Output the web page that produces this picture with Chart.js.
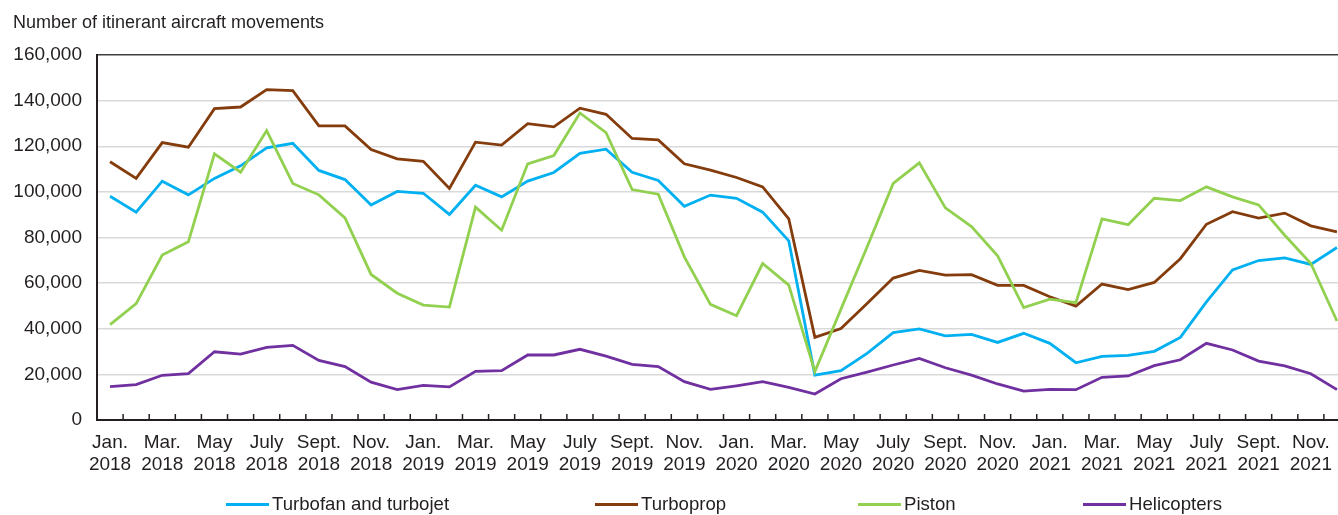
<!DOCTYPE html>
<html lang="en">
<head>
    <meta charset="UTF-8">
    <title>Itinerant aircraft movements</title>
    <script src="https://cdn.jsdelivr.net/npm/chart.js"></script>
    <style>
        body {
            margin: 0;
            background: #fff;
            font-family: 'Liberation Sans', Arial, sans-serif;
            color: #231f20;
        }
        #wrap {
            position: relative;
            width: 1338px;
            height: 515px;
        }
        #chart {
            position: absolute;
            left: 0;
            top: 0;
        }
        #title {
            position: absolute;
            left: 13px;
            top: 12px;
            font-size: 18px;
            line-height: 20px;
            white-space: nowrap;
        }
        .legend-item {
            position: absolute;
            top: 494px;
            font-size: 18.6px;
            line-height: 20px;
            white-space: nowrap;
        }
        .legend-line {
            position: absolute;
            width: 43px;
            height: 3px;
        }
    </style>
</head>
<body>
    <div id="wrap">
        <canvas id="chart" width="1338" height="515"></canvas>
        <div id="title">Number of itinerant aircraft movements</div>
        <div id="legend"></div>
    </div>

    <script>
        // months Jan. 2018 .. Dec. 2021
        const monthNames = ['Jan.', 'Feb.', 'Mar.', 'Apr.', 'May', 'June', 'July', 'Aug.', 'Sept.', 'Oct.', 'Nov.', 'Dec.'];
        const years = ['2018', '2019', '2020', '2021'];
        const categories = years.flatMap(y => monthNames.map(m => m + ' ' + y));

        const seriesNames = ['Turbofan and turbojet', 'Turboprop', 'Piston', 'Helicopters'];
        const seriesColors = ['#00b0f0', '#843c0c', '#92d050', '#7030a0'];

        const turbofan = [
            98100, 91100, 104700, 98700, 105900, 111400, 119300, 121300, 109400, 105400, 94200, 100200,
            99400, 90100, 102900, 97800, 104700, 108500, 116900, 118700, 108600, 105000, 93700, 98600,
            97200, 91100, 78500, 19700, 21600, 29200, 38300, 39900, 36900, 37500, 34000, 38000,
            33600, 25100, 27900, 28300, 30100, 36200, 51800, 65800, 69900, 71100, 68200, 75600
        ];
        const turboprop = [
            113200, 105900, 121600, 119600, 136500, 137200, 144800, 144400, 128900, 128900, 118600, 114500,
            113400, 101500, 121800, 120500, 129900, 128500, 136700, 134000, 123400, 122800, 112300, 109500,
            106300, 102200, 88200, 36200, 40100, 51100, 62200, 65600, 63500, 63700, 59000, 59000,
            54000, 49900, 59600, 57200, 60300, 70700, 85800, 91300, 88500, 90700, 85100, 82500
        ];
        const piston = [
            41800, 51000, 72300, 78100, 116700, 108600, 126900, 103700, 98700, 88600, 63800, 55600,
            50400, 49500, 93300, 83200, 112300, 115900, 134600, 126000, 101000, 99000, 71500, 50700,
            45700, 68600, 59100, 21200, 48600, 75800, 103700, 112700, 93000, 84800, 72000, 49300,
            53000, 51400, 88200, 85600, 97200, 96200, 102200, 97800, 94300, 81000, 68600, 43400
        ];
        const helicopters = [
            14600, 15500, 19600, 20300, 29900, 28900, 31800, 32700, 26100, 23400, 16600, 13300,
            15200, 14500, 21300, 21600, 28500, 28500, 31000, 28000, 24400, 23400, 16800, 13400,
            15000, 16800, 14300, 11400, 18100, 21000, 24100, 27000, 22900, 19700, 15800, 12700,
            13400, 13300, 18700, 19300, 23800, 26400, 33600, 30700, 25800, 23700, 20300, 13300
        ];
        const allSeries = [turbofan, turboprop, piston, helicopters];

        // x labels shown every second month
        const tickMonths = ['Jan.', 'Mar.', 'May', 'July', 'Sept.', 'Nov.'];
        const tickIndexes = categories.map((c, i) => i).filter(i => i % 2 === 0);

        const legendLeft = [226, 595, 858, 1083];

        const textColor = '#231f20';
        const fontFamily = "'Liberation Sans', Arial, sans-serif";

        const tickMarks = {
            id: 'tickMarks',
            beforeDatasetsDraw(chart) {
                const { ctx, chartArea, scales: { x, y } } = chart;
                const base = y.getPixelForValue(0);
                ctx.save();
                ctx.strokeStyle = textColor;
                ctx.lineWidth = 1.5;
                for (let i = 0; i < categories.length; i++) {
                    const px = x.getPixelForValue(i + 0.5);
                    if (px > chartArea.right) break;
                    ctx.beginPath();
                    ctx.moveTo(px, base);
                    ctx.lineTo(px, base - 6);
                    ctx.stroke();
                }
                ctx.restore();
            }
        };

        function buildLegend() {
            const legend = document.getElementById('legend');
            seriesNames.forEach((name, i) => {
                const line = document.createElement('div');
                line.className = 'legend-line';
                line.style.left = legendLeft[i] + 'px';
                line.style.top = '503px';
                line.style.background = seriesColors[i];
                legend.appendChild(line);

                const item = document.createElement('div');
                item.className = 'legend-item';
                item.style.left = (legendLeft[i] + 46) + 'px';
                item.textContent = name;
                legend.appendChild(item);
            });
        }

        function drawChart() {
            const ctx = document.getElementById('chart').getContext('2d');
            const datasets = seriesNames.map((name, s) => ({
                label: name,
                data: categories.map((c, i) => ({ x: i, y: allSeries[s][i] })),
                borderColor: seriesColors[s],
                backgroundColor: seriesColors[s],
                borderWidth: 2.8,
                pointRadius: 0,
                tension: 0,
                fill: false,
                order: 4 - s
            }));

            new Chart(ctx, {
                type: 'line',
                data: { datasets: datasets },
                options: {
                    responsive: false,
                    animation: false,
                    layout: { padding: { top: 55, right: 0, bottom: 0, left: 0 } },
                    plugins: {
                        legend: { display: false },
                        tooltip: { enabled: false }
                    },
                    scales: {
                        x: {
                            type: 'linear',
                            min: -0.5,
                            max: 47.04,
                            afterBuildTicks: scale => {
                                scale.ticks = tickIndexes.map(v => ({ value: v }));
                            },
                            afterFit: scale => {
                                scale.height = 95;
                                scale.paddingLeft = 0;
                                scale.paddingRight = 0;
                            },
                            grid: { display: false },
                            border: { display: true, color: textColor, width: 2 },
                            ticks: {
                                autoSkip: false,
                                maxRotation: 0,
                                minRotation: 0,
                                padding: 4,
                                color: textColor,
                                font: { family: fontFamily, size: 19, lineHeight: 1.16 },
                                callback: value => {
                                    const i = Math.round(value);
                                    return [tickMonths[(i % 12) / 2], years[Math.floor(i / 12)]];
                                }
                            }
                        },
                        y: {
                            min: 0,
                            max: 160000,
                            afterFit: scale => { scale.width = 97; },
                            border: { display: true, color: textColor, width: 2 },
                            grid: {
                                drawTicks: false,
                                lineWidth: 1.5,
                                color: c => c.tick.value === 160000 ? '#404040' : '#d9d9d9'
                            },
                            ticks: {
                                stepSize: 20000,
                                padding: 15,
                                color: textColor,
                                font: { family: fontFamily, size: 19 },
                                callback: v => v.toLocaleString('en-US')
                            }
                        }
                    }
                },
                plugins: [tickMarks]
            });
        }

        buildLegend();
        drawChart();
    </script>
</body>
</html>
